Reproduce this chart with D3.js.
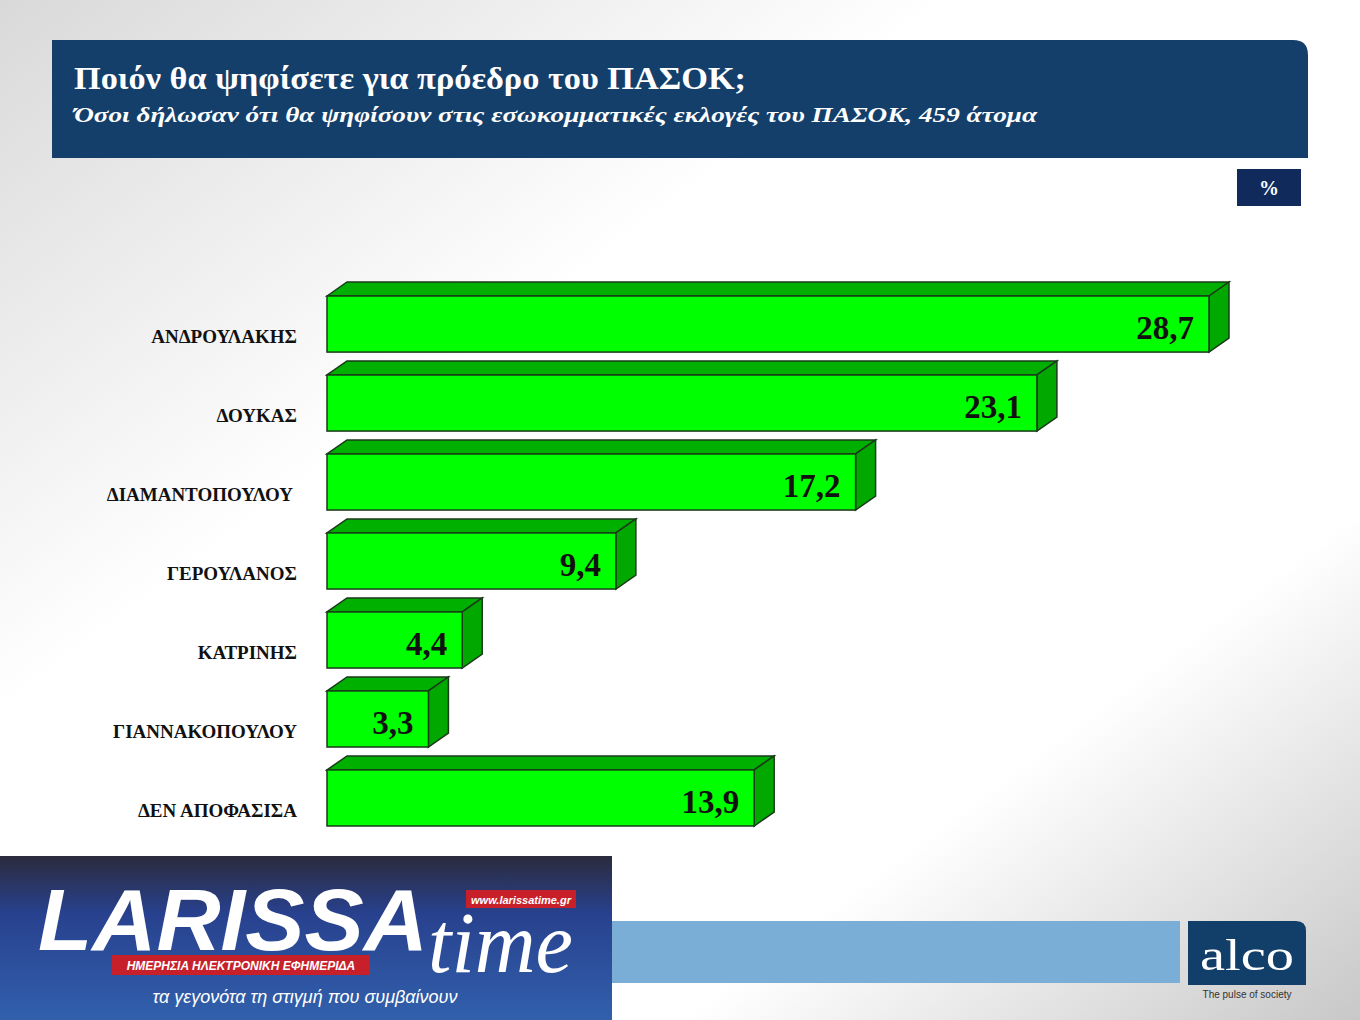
<!DOCTYPE html><html><head><meta charset="utf-8"><script src="https://cdn.jsdelivr.net/npm/d3@7"></script>
<style>body{margin:0}</style></head><body><script>
const categories=["ΑΝΔΡΟΥΛΑΚΗΣ","ΔΟΥΚΑΣ","ΔΙΑΜΑΝΤΟΠΟΥΛΟΥ","ΓΕΡΟΥΛΑΝΟΣ","ΚΑΤΡΙΝΗΣ","ΓΙΑΝΝΑΚΟΠΟΥΛΟΥ","ΔΕΝ ΑΠΟΦΑΣΙΣΑ"];
const values=[28.7,23.1,17.2,9.4,4.4,3.3,13.9];
const labels=["28,7","23,1","17,2","9,4","4,4","3,3","13,9"];
const W=1360,H=1020;
const svg=d3.select("body").append("svg").attr("width",W).attr("height",H);
const defs=svg.append("defs");
const g1=defs.append("linearGradient").attr("id","bg").attr("x1",0).attr("y1",0).attr("x2",1).attr("y2",1);
g1.append("stop").attr("offset",0).attr("stop-color","#d9d9d9");
g1.append("stop").attr("offset",0.35).attr("stop-color","#ffffff");
g1.append("stop").attr("offset",0.75).attr("stop-color","#ffffff");
g1.append("stop").attr("offset",1).attr("stop-color","#c8c8c8");
svg.append("rect").attr("width",W).attr("height",H).attr("fill","url(#bg)");
const serif="'Liberation Serif','DejaVu Serif',serif";
svg.append("path").attr("d","M52,40H1293Q1308,40 1308,55V158H52Z").attr("fill","#143f6b");
svg.append("text").attr("x",74).attr("y",89).attr("fill","#fff").attr("font-family",serif).attr("font-weight","bold").attr("font-size",31).attr("textLength",672).attr("lengthAdjust","spacingAndGlyphs").text("Ποιόν θα ψηφίσετε για πρόεδρο του ΠΑΣΟΚ;");
svg.append("text").attr("x",74).attr("y",122).attr("fill","#fff").attr("font-family",serif).attr("font-weight","bold").attr("font-style","italic").attr("font-size",21).attr("textLength",963).attr("lengthAdjust","spacingAndGlyphs").text("Όσοι δήλωσαν ότι θα ψηφίσουν στις εσωκομματικές εκλογές του ΠΑΣΟΚ, 459 άτομα");
svg.append("rect").attr("x",1237).attr("y",169).attr("width",64).attr("height",37).attr("fill","#102a5c");
svg.append("text").attr("x",1269).attr("y",195).attr("text-anchor","middle").attr("fill","#fff").attr("font-family",serif).attr("font-weight","bold").attr("font-size",20).text("%");
const x=d3.scaleLinear().domain([0,28.7]).range([327,1209]);
const y=d3.scaleBand().domain(categories).range([296,826]).paddingInner(0.29).paddingOuter(0);
const dx=20,dy=14;
const gb=svg.append("g");
categories.forEach((c,i)=>{
  const x0=x(0),x1=x(values[i]),y0=y(c),h=y.bandwidth();
  gb.append("path").attr("d",`M${x0},${y0}L${x0+dx},${y0-dy}L${x1+dx},${y0-dy}L${x1},${y0}Z`).attr("fill","#00b000").attr("stroke","#1a3a1a").attr("stroke-width",1.5);
  gb.append("path").attr("d",`M${x1},${y0}L${x1+dx},${y0-dy}L${x1+dx},${y0+h-dy}L${x1},${y0+h}Z`).attr("fill","#00a800").attr("stroke","#1a3a1a").attr("stroke-width",1.5);
  gb.append("rect").attr("x",x0).attr("y",y0).attr("width",x1-x0).attr("height",h).attr("fill","#00ff00").attr("stroke","#1a3a1a").attr("stroke-width",1.5);
  gb.append("text").attr("x",x1-15).attr("y",y0+h/2+15).attr("text-anchor","end").attr("font-family",serif).attr("font-weight","bold").attr("font-size",33).attr("fill","#111").text(labels[i]);
  gb.append("text").attr("x",c==="ΔΙΑΜΑΝΤΟΠΟΥΛΟΥ"?293:297).attr("y",y0+h-9).attr("text-anchor","end").attr("font-family",serif).attr("font-weight","bold").attr("font-size",19).attr("fill","#111").text(c);
});
svg.append("rect").attr("x",612).attr("y",921).attr("width",568).attr("height",62).attr("fill","#7aaed6");
svg.append("path").attr("d","M1188,921H1296Q1306,921 1306,931V985H1188Z").attr("fill","#123e6a");
svg.append("text").attr("x",1247).attr("y",970).attr("text-anchor","middle").attr("fill","#fff").attr("font-family",serif).attr("font-size",44).attr("textLength",94).attr("lengthAdjust","spacingAndGlyphs").text("alco");
svg.append("text").attr("x",1247).attr("y",998).attr("text-anchor","middle").attr("fill","#333").attr("font-family","'Liberation Sans Narrow','Liberation Sans',sans-serif").attr("font-size",10).text("The pulse of society");
const g2=defs.append("linearGradient").attr("id","lg").attr("x1",0).attr("y1",0).attr("x2",0).attr("y2",1);
g2.append("stop").attr("offset",0).attr("stop-color","#2b2b3d");
g2.append("stop").attr("offset",0.35).attr("stop-color","#28418e");
g2.append("stop").attr("offset",1).attr("stop-color","#3160ac");
svg.append("rect").attr("x",0).attr("y",856).attr("width",612).attr("height",164).attr("fill","url(#lg)");
svg.append("text").attr("x",38).attr("y",950).attr("fill","#fff").attr("font-family","'Liberation Sans',sans-serif").attr("font-weight","bold").attr("font-style","italic").attr("font-size",88).attr("textLength",390).attr("lengthAdjust","spacingAndGlyphs").text("LARISSA");
svg.append("text").attr("x",428).attr("y",972).attr("fill","#fff").attr("font-family",serif).attr("font-style","italic").attr("font-size",86).attr("textLength",145).attr("lengthAdjust","spacingAndGlyphs").text("time");
svg.append("rect").attr("x",466).attr("y",890).attr("width",110).attr("height",18).attr("fill","#c8202a");
svg.append("text").attr("x",521).attr("y",904).attr("text-anchor","middle").attr("fill","#fff").attr("font-family","'Liberation Sans',sans-serif").attr("font-weight","bold").attr("font-style","italic").attr("font-size",11).text("www.larissatime.gr");
svg.append("rect").attr("x",112).attr("y",955).attr("width",258).attr("height",20).attr("fill","#c8202a");
svg.append("text").attr("x",241).attr("y",970).attr("text-anchor","middle").attr("fill","#fff").attr("font-family","'Liberation Sans',sans-serif").attr("font-weight","bold").attr("font-style","italic").attr("font-size",12).text("ΗΜΕΡΗΣΙΑ ΗΛΕΚΤΡΟΝΙΚΗ ΕΦΗΜΕΡΙΔΑ");
svg.append("text").attr("x",305).attr("y",1003).attr("text-anchor","middle").attr("fill","#fff").attr("font-family","'Liberation Sans',sans-serif").attr("font-style","italic").attr("font-size",18).text("τα γεγονότα τη στιγμή που συμβαίνουν");
</script></body></html>
